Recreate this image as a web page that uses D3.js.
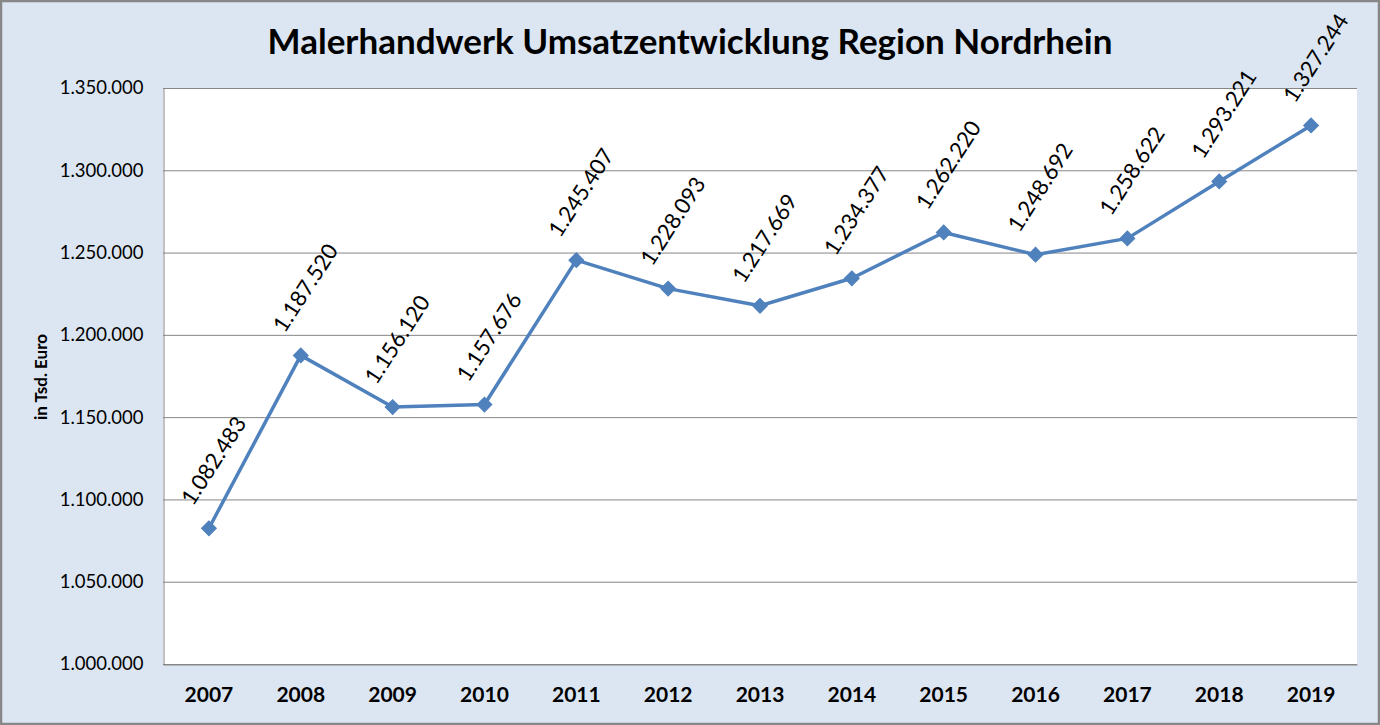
<!DOCTYPE html>
<html>
<head>
<meta charset="utf-8">
<script src="https://cdn.jsdelivr.net/npm/d3@7.9.0/dist/d3.min.js"></script>
<style>
  html, body { margin: 0; padding: 0; background: #fff; }
  svg { display: block; font-family: Lato, "Open Sans", sans-serif; }
</style>
</head>
<body>
<svg id="chart" width="1380" height="725"></svg>
<script>
const years = ['2007', '2008', '2009', '2010', '2011', '2012', '2013',
               '2014', '2015', '2016', '2017', '2018', '2019'];
const umsatz = [1082483, 1187520, 1156120, 1157676, 1245407, 1228093, 1217669,
                1234377, 1262220, 1248692, 1258622, 1293221, 1327244];
const yTicks = [1000000, 1050000, 1100000, 1150000, 1200000, 1250000, 1300000, 1350000];

const W = 1380, H = 725;
const plot = { left: 163, right: 1357, top: 88, bottom: 664 };
const blue = '#4f81bd';

// german number format with dots
const fmt = d3.formatLocale({ decimal: ',', thousands: '.', grouping: [3], currency: ['', ' €'] }).format(',d');

const svg = d3.select('#chart');

svg.append('rect')
   .attr('x', 1).attr('y', 1)
   .attr('width', W - 2).attr('height', H - 2)
   .attr('fill', '#dce6f2')
   .attr('stroke', '#878787')
   .attr('stroke-width', 2.5);

svg.append('rect')
   .attr('x', plot.left).attr('y', plot.top)
   .attr('width', plot.right - plot.left).attr('height', plot.bottom - plot.top)
   .attr('fill', '#fff');

const x = d3.scaleBand().domain(years).range([plot.left, plot.right]);
const y = d3.scaleLinear().domain([1000000, 1350000]).range([plot.bottom, plot.top]);

// gridlines
svg.append('g')
   .selectAll('line')
   .data(yTicks)
   .join('line')
   .attr('x1', plot.left).attr('x2', plot.right)
   .attr('y1', d => y(d) + 0.5).attr('y2', d => y(d) + 0.5)
   .attr('stroke', '#868686')
   .attr('stroke-width', 1);

// y axis
const yAxis = svg.append('g')
   .attr('transform', `translate(${plot.left + 0.5},0)`)
   .call(d3.axisLeft(y).tickValues(yTicks).tickFormat(fmt).tickSize(0).tickPadding(20));
yAxis.select('.domain').attr('stroke', '#868686');
yAxis.selectAll('text')
   .attr('font-size', 18.5)
   .attr('fill', '#000')
   .attr('font-family', 'Lato, sans-serif');

// x axis
const xAxis = svg.append('g')
   .attr('transform', `translate(0,${plot.bottom + 0.5})`)
   .call(d3.axisBottom(x).tickSize(0).tickPadding(23));
xAxis.select('.domain').attr('stroke', '#868686');
xAxis.selectAll('text')
   .attr('font-size', 21)
   .attr('font-weight', 'bold')
   .attr('fill', '#000')
   .attr('font-family', 'Lato, sans-serif');

// title
svg.append('text')
   .attr('x', 690).attr('y', 54)
   .attr('text-anchor', 'middle')
   .attr('font-size', 35)
   .attr('font-weight', 'bold')
   .text('Malerhandwerk Umsatzentwicklung Region Nordrhein');

// y axis title
svg.append('text')
   .attr('transform', `translate(47,377) rotate(-90)`)
   .attr('text-anchor', 'middle')
   .attr('font-size', 17)
   .attr('font-weight', 'bold')
   .text('in Tsd. Euro');

const cx = (d, i) => x(years[i]) + x.bandwidth() / 2;

// line
const line = d3.line()
   .x((d, i) => cx(d, i))
   .y(d => y(d));

svg.append('path')
   .datum(umsatz)
   .attr('d', line)
   .attr('fill', 'none')
   .attr('stroke', blue)
   .attr('stroke-width', 3.5)
   .attr('stroke-linejoin', 'round');

// diamond markers
svg.append('g')
   .selectAll('path')
   .data(umsatz)
   .join('path')
   .attr('transform', (d, i) => `translate(${cx(d, i)},${y(d)}) rotate(45)`)
   .attr('d', d3.symbol().type(d3.symbolSquare).size(110))
   .attr('fill', blue)
   .attr('stroke', blue)
   .attr('stroke-width', 1);

// data labels, rotated
svg.append('g')
   .selectAll('text')
   .data(umsatz)
   .join('text')
   .attr('transform', (d, i) => `translate(${cx(d, i) + 4},${y(d) - 68}) rotate(-57)`)
   .attr('text-anchor', 'middle')
   .attr('dominant-baseline', 'central')
   .attr('font-size', 22)
   .attr('fill', '#000')
   .text(d => fmt(d));
</script>
</body>
</html>
